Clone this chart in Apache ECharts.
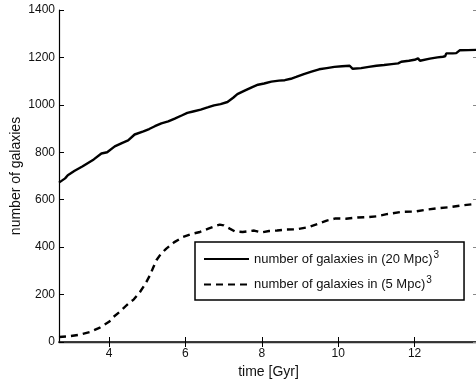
<!DOCTYPE html>
<html>
<head>
<meta charset="utf-8">
<script src="https://cdn.jsdelivr.net/npm/echarts@6/dist/echarts.min.js"></script>
<style>html,body{margin:0;padding:0;background:#fff;}#c{width:476px;height:380px;}</style>
</head>
<body>
<div id="c"></div>
<script>
var xTicks = [4, 6, 8, 10, 12];
var yTicks = [0, 200, 400, 600, 800, 1000, 1200, 1400];
var seriesNames = ['number of galaxies in (20 Mpc)', 'number of galaxies in (5 Mpc)'];
var superscript = '3';

var timeSolid = [2.69, 2.85, 2.92, 3.1, 3.3, 3.45, 3.6, 3.8, 3.95, 4.15, 4.35, 4.5, 4.67, 4.9, 5.05, 5.2, 5.37, 5.55, 5.72, 5.9, 6.05, 6.2, 6.4, 6.6, 6.75, 6.92, 7.1, 7.25, 7.36, 7.55, 7.75, 7.9, 8.06, 8.25, 8.45, 8.6, 8.76, 8.9, 9.1, 9.3, 9.5, 9.7, 9.9, 10.1, 10.3, 10.34, 10.38, 10.43, 10.6, 10.8, 11.0, 11.2, 11.4, 11.57, 11.65, 11.85, 12.0, 12.09, 12.14, 12.18, 12.4, 12.6, 12.74, 12.8, 12.83, 13.0, 13.09, 13.18, 13.4, 13.66];
var countSolid = [672, 690, 703, 722, 740, 755, 770, 795, 800, 825, 840, 850, 875, 888, 898, 910, 922, 930, 942, 955, 966, 972, 980, 990, 998, 1003, 1012, 1030, 1045, 1060, 1075, 1085, 1090, 1098, 1102, 1104, 1110, 1118, 1130, 1140, 1150, 1155, 1160, 1163, 1165, 1168, 1152, 1150, 1155, 1160, 1165, 1168, 1172, 1175, 1182, 1186, 1190, 1196, 1186, 1189, 1195, 1200, 1203, 1205, 1217, 1217, 1218, 1230, 1231, 1232];

var timeDashed = [2.69, 3.0, 3.24, 3.5, 3.76, 4.0, 4.11, 4.3, 4.46, 4.65, 4.81, 4.95, 5.07, 5.16, 5.24, 5.35, 5.5, 5.7, 5.94, 6.15, 6.38, 6.6, 6.8, 6.9, 7.0, 7.16, 7.3, 7.5, 7.8, 8.0, 8.19, 8.4, 8.63, 8.9, 9.24, 9.5, 9.7, 9.93, 10.2, 10.5, 10.8, 11.0, 11.3, 11.68, 12.0, 12.3, 12.55, 12.9, 13.2, 13.66];
var countDashed = [21, 25, 31, 42, 61, 85, 105, 130, 155, 180, 211, 245, 281, 315, 345, 370, 394, 420, 443, 455, 464, 478, 490, 495, 492, 478, 466, 464, 470, 462, 468, 470, 474, 475, 485, 500, 512, 521, 520, 525, 527, 530, 540, 549, 550, 558, 563, 568, 575, 584];

function pairs(xs, ys) { return xs.map(function (x, i) { return [x, ys[i]]; }); }

var FONT = 'Liberation Sans, Arial, Helvetica, sans-serif';
var chart = echarts.init(document.getElementById('c'), null, { renderer: 'canvas' });
var xCommon = { type: 'value', min: 2.69, max: 13.66 };
var yCommon = { type: 'value', min: 0, max: 1400 };
chart.setOption({
  animation: false,
  backgroundColor: '#fff',
  grid: { left: 59, top: 10, width: 419, height: 332, containLabel: false, outerBoundsMode: 'none' },
  xAxis: [
    Object.assign({}, xCommon, {
      position: 'bottom',
      name: 'time [Gyr]', nameLocation: 'middle', nameGap: 23, nameMoveOverlap: false,
      nameTextStyle: { fontFamily: FONT, fontSize: 14, color: '#111' },
      axisLine: { show: true, lineStyle: { color: '#000', width: 1.6 } },
      axisTick: { show: true, inside: true, length: 5, customValues: xTicks, lineStyle: { color: '#000', width: 1 } },
      axisLabel: { customValues: xTicks, fontFamily: FONT, fontSize: 12, color: '#111', margin: 6,
                   formatter: function (v) { return String(v); } },
      splitLine: { show: false }
    }),
    Object.assign({}, xCommon, {
      position: 'top',
      axisLine: { show: true, lineStyle: { color: '#333', width: 1.4 } },
      axisTick: { show: true, inside: true, length: 5, customValues: xTicks, lineStyle: { color: '#000', width: 1 } },
      axisLabel: { show: false },
      splitLine: { show: false }
    })
  ],
  yAxis: [
    Object.assign({}, yCommon, {
      position: 'left', interval: 200,
      name: 'number of galaxies', nameLocation: 'middle', nameGap: 36, nameMoveOverlap: false,
      nameTextStyle: { fontFamily: FONT, fontSize: 14, color: '#111' },
      axisLine: { show: true, lineStyle: { color: '#000', width: 1.2 } },
      axisTick: { show: true, inside: true, length: 5, lineStyle: { color: '#000', width: 1 } },
      axisLabel: { fontFamily: FONT, fontSize: 12, color: '#111', margin: 4,
                   formatter: function (v) { return String(v); } },
      splitLine: { show: false }
    }),
    Object.assign({}, yCommon, {
      position: 'right', interval: 200,
      axisLine: { show: true, lineStyle: { color: '#000', width: 1.2 } },
      axisTick: { show: true, inside: true, length: 5, lineStyle: { color: '#888', width: 1 } },
      axisLabel: { show: false },
      splitLine: { show: false }
    })
  ],
  legend: {
    orient: 'vertical', left: 195, top: 242,
    padding: [8, 25, 9, 8],
    itemWidth: 45, itemHeight: 14, itemGap: 10,
    borderColor: '#000', borderWidth: 1.5, backgroundColor: '#fff',
    itemStyle: { opacity: 0 },
    textStyle: { fontFamily: FONT, fontSize: 13, color: '#111',
      rich: {
        t: { fontFamily: FONT, fontSize: 13, color: '#111' },
        s: { fontFamily: FONT, fontSize: 10, color: '#111', verticalAlign: 'top', padding: [0, 0, 8, 1] }
      }
    },
    formatter: function (name) { return '{t|' + name + '}{s|' + superscript + '}'; },
    data: seriesNames
  },
  series: [
    {
      name: seriesNames[0], type: 'line', xAxisIndex: 0, yAxisIndex: 0,
      data: pairs(timeSolid, countSolid),
      symbol: 'none', showSymbol: false,
      lineStyle: { color: '#000', width: 2.4, type: 'solid' },
      itemStyle: { color: '#000' }
    },
    {
      name: seriesNames[1], type: 'line', xAxisIndex: 0, yAxisIndex: 0,
      data: pairs(timeDashed, countDashed),
      symbol: 'none', showSymbol: false,
      lineStyle: { color: '#000', width: 2.4, type: [7, 5] },
      itemStyle: { color: '#000' }
    }
  ]
});
</script>
</body>
</html>
